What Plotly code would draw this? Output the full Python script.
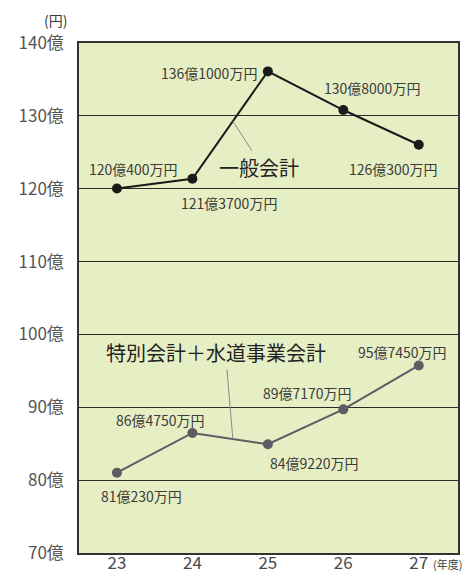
import plotly.graph_objects as go

years = [23, 24, 25, 26, 27]
year_labels = ["23", "24", "25", "26", "27"]
general = [120.04, 121.37, 136.10, 130.80, 126.03]
general_labels = ["120億400万円", "121億3700万円", "136億1000万円", "130億8000万円", "126億300万円"]
special = [81.023, 86.475, 84.922, 89.717, 95.745]
special_labels = ["81億230万円", "86億4750万円", "84億9220万円", "89億7170万円", "95億7450万円"]
y_ticks = [70, 80, 90, 100, 110, 120, 130, 140]
y_tick_labels = ["70億", "80億", "90億", "100億", "110億", "120億", "130億", "140億"]

FONT = "Noto Sans CJK JP"
TXT = "#3c3c3c"

fig = go.Figure()
fig.add_trace(go.Scatter(x=years, y=general, mode="lines+markers",
                         line=dict(color="#1a1a1a", width=2),
                         marker=dict(color="#1a1a1a", size=10), hoverinfo="skip"))
fig.add_trace(go.Scatter(x=years, y=special, mode="lines+markers",
                         line=dict(color="#5c5c62", width=2),
                         marker=dict(color="#5c5c62", size=10), hoverinfo="skip"))

g_shifts = [(17, 19), (37, -24), (-59, -2), (29, 22), (-25, -24)]
s_shifts = [(25, -23), (-32, 13), (47, -19), (-36, 16), (-16, 13)]
for x, y, t, (dx, dy) in zip(years, general, general_labels, g_shifts):
    fig.add_annotation(x=x, y=y, text=t, showarrow=False, xshift=dx, yshift=dy,
                       xanchor="center", yanchor="middle",
                       font=dict(family=FONT, size=14, color=TXT))
for x, y, t, (dx, dy) in zip(years, special, special_labels, s_shifts):
    fig.add_annotation(x=x, y=y, text=t, showarrow=False, xshift=dx, yshift=dy,
                       xanchor="center", yanchor="middle",
                       font=dict(family=FONT, size=14, color=TXT))

# leader lines
t = 0.536
gx = years[1] + t
gy = general[1] + t * (general[2] - general[1])
sy = special[1] + t * (special[2] - special[1])
fig.add_annotation(x=gx, y=gy, text="", showarrow=True, arrowhead=0, arrowwidth=1,
                   arrowcolor="#8a8a8a", ax=20, ay=31, standoff=0, startstandoff=0)
fig.add_annotation(x=gx, y=sy, text="", showarrow=True, arrowhead=0, arrowwidth=1,
                   arrowcolor="#8a8a8a", ax=-6, ay=-71, standoff=0, startstandoff=0)

fig.add_annotation(xref="paper", yref="paper", x=0.475, y=0.755, text="一般会計",
                   xanchor="center", yanchor="middle",
                   showarrow=False, font=dict(family=FONT, size=20, color="#222"))
fig.add_annotation(xref="paper", yref="paper", x=0.361, y=0.394, text="特別会計＋水道事業会計",
                   xanchor="center", yanchor="middle",
                   showarrow=False, font=dict(family=FONT, size=20, color="#222"))
fig.add_annotation(xref="paper", yref="paper", x=-0.061, y=1.045, text="(円)",
                   xanchor="center", yanchor="middle",
                   showarrow=False, font=dict(family=FONT, size=14, color=TXT))
fig.add_annotation(xref="x", yref="paper", x=27, y=-0.0215, xshift=12, text="(年度)",
                   xanchor="left", yanchor="middle", showarrow=False,
                   font=dict(family=FONT, size=11, color=TXT))

fig.update_layout(
    width=470, height=574,
    margin=dict(l=79, r=12, t=43, b=21, autoexpand=False),
    paper_bgcolor="white", plot_bgcolor="#e6eec3",
    showlegend=False,
    xaxis=dict(range=[22.497, 27.52], tickvals=years, ticktext=year_labels,
               showgrid=False, zeroline=False, showline=True, mirror=True,
               linecolor="#333", linewidth=1.5, automargin=False,
               ticks="", ticklabelstandoff=-6,
               tickfont=dict(family=FONT, size=17, color="#4a4a4a"), fixedrange=True),
    yaxis=dict(range=[70, 140], tickvals=y_ticks, ticktext=y_tick_labels,
               showgrid=True, gridcolor="#2a2a2a", gridwidth=1.2, zeroline=False,
               showline=True, mirror=True, linecolor="#333", linewidth=1.5, automargin=False,
               ticks="", ticklabelstandoff=10,
               tickfont=dict(family=FONT, size=17, color="#555"), fixedrange=True),
)

fig.write_html("out.html")
